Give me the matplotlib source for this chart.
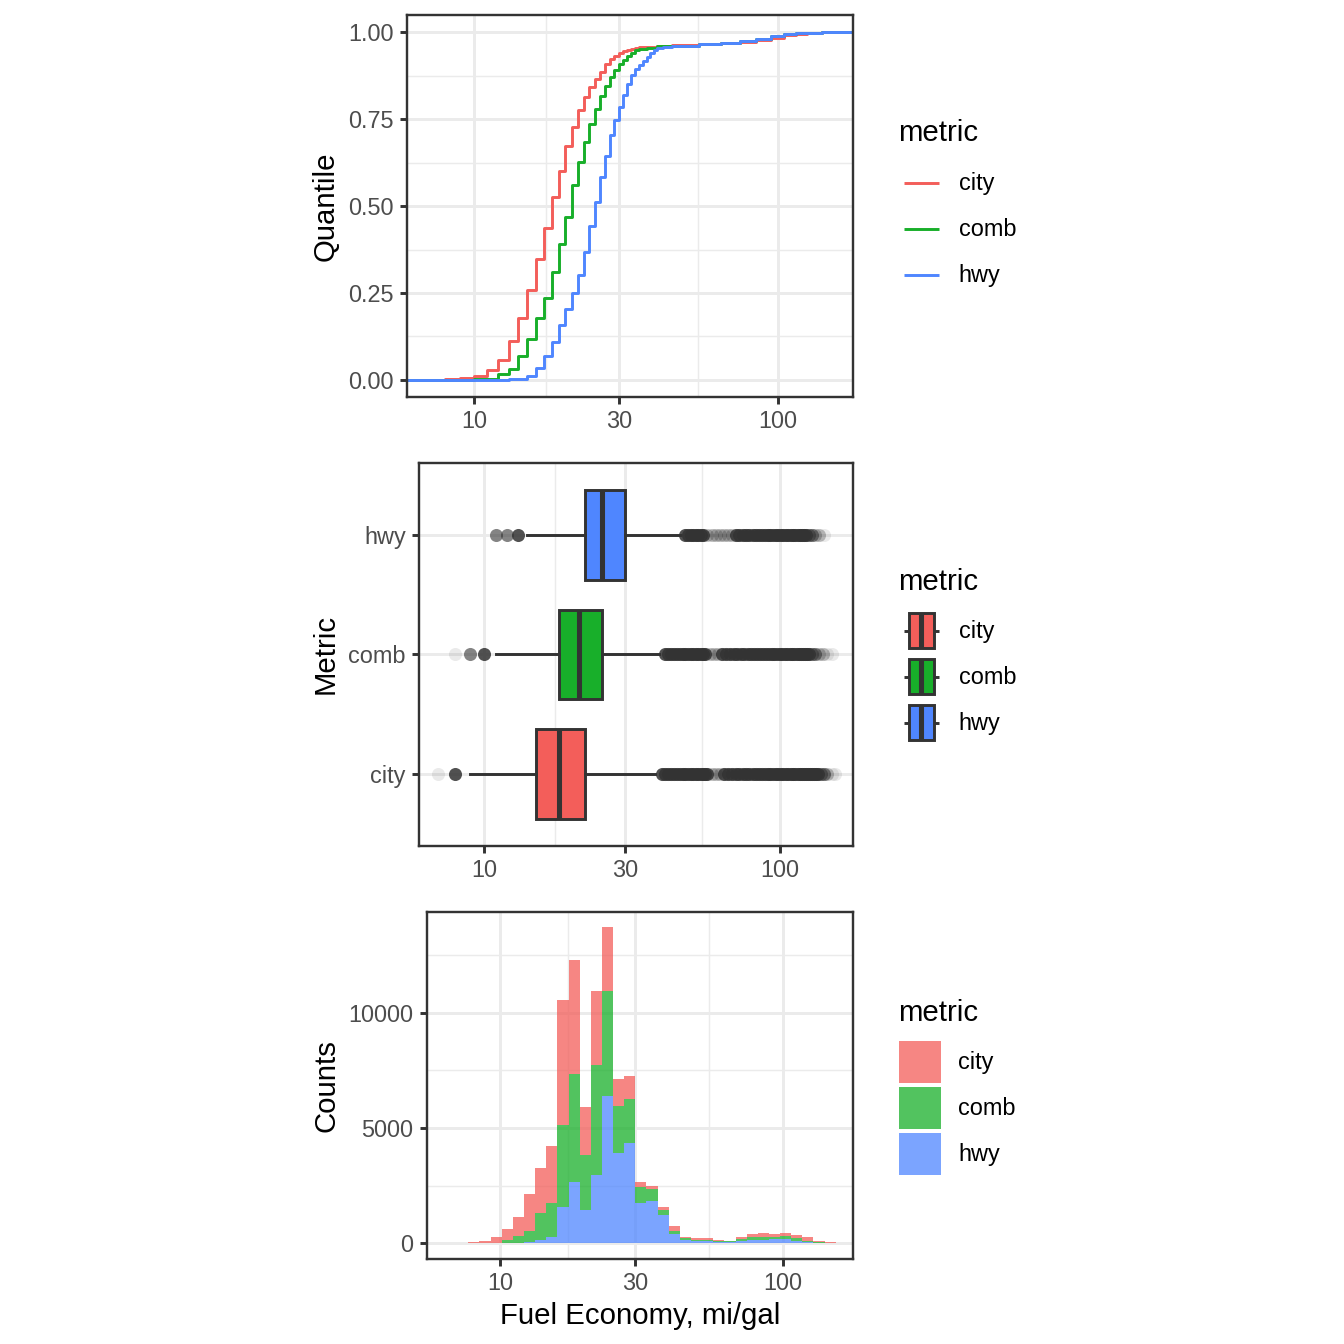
import numpy as np
import matplotlib
matplotlib.use("Agg")
import matplotlib.pyplot as plt
from matplotlib.lines import Line2D
from matplotlib.patches import Rectangle
from matplotlib.ticker import FixedLocator, FixedFormatter, NullFormatter

plt.rcParams['font.family'] = ['Liberation Sans', 'DejaVu Sans']

metrics = ['city', 'comb', 'hwy']
colors = ['#F35E5A', '#18AF2A', '#4F86FF']

# ---- ECDF steps: mpg value and cumulative share after the step
city_x = [7, 8, 9, 10, 11, 12, 13, 14, 15, 16, 17, 18, 19, 20, 21, 22, 23, 24, 25,
          26, 27, 28, 29, 30, 31, 32, 33, 34, 35, 37, 40, 45, 55, 65, 75, 85, 95,
          105, 115, 125, 140]
city_q = [0.0005, 0.002, 0.006, 0.011, 0.029, 0.057, 0.111, 0.178, 0.258, 0.348,
          0.438, 0.526, 0.602, 0.673, 0.727, 0.778, 0.815, 0.843, 0.865, 0.887,
          0.910, 0.922, 0.932, 0.941, 0.946, 0.950, 0.953, 0.955, 0.957, 0.959,
          0.962, 0.964, 0.967, 0.969, 0.972, 0.977, 0.985, 0.992, 0.996, 0.998, 1.0]

comb_x = [8, 9, 10, 11, 12, 13, 14, 15, 16, 17, 18, 19, 20, 21, 22, 23, 24, 25,
          26, 27, 28, 29, 30, 31, 32, 33, 34, 35, 37, 40, 45, 55, 65, 75, 85, 95,
          105, 115, 125, 140]
comb_q = [0.0002, 0.001, 0.002, 0.004, 0.016, 0.031, 0.069, 0.119, 0.178, 0.237,
          0.310, 0.391, 0.470, 0.560, 0.628, 0.686, 0.736, 0.780, 0.818, 0.845,
          0.872, 0.891, 0.910, 0.920, 0.931, 0.941, 0.948, 0.952, 0.956, 0.961,
          0.962, 0.967, 0.970, 0.974, 0.981, 0.989, 0.995, 0.998, 0.999, 1.0]

hwy_x = [11, 12, 13, 14, 15, 16, 17, 18, 19, 20, 21, 22, 23, 24, 25, 26, 27, 28,
         29, 30, 31, 32, 33, 34, 35, 36, 37, 38, 39, 40, 42, 45, 55, 65, 75, 85,
         95, 105, 115, 125, 140]
hwy_q = [0.0003, 0.0006, 0.002, 0.004, 0.011, 0.033, 0.069, 0.109, 0.157, 0.203,
         0.249, 0.302, 0.367, 0.444, 0.512, 0.585, 0.644, 0.704, 0.748, 0.784,
         0.820, 0.851, 0.876, 0.895, 0.905, 0.918, 0.930, 0.942, 0.950, 0.955,
         0.959, 0.962, 0.967, 0.970, 0.974, 0.981, 0.989, 0.995, 0.998, 0.999, 1.0]

# ---- boxplot: whisker low, q1, median, q3, whisker high
city_box = [9, 15, 18, 22, 38]
comb_box = [11, 18, 21, 25, 39]
hwy_box = [14, 22, 25, 30, 46]

# outliers grouped by how dense they look
city_out_dark = [8, 40, 41, 42, 43, 44, 45, 46, 47, 48, 49, 50, 51, 52, 53, 54, 55,
                 56, 57, 65, 67, 69, 71, 73, 75, 77, 79, 81, 83, 85, 87, 89, 91, 93,
                 95, 97, 99, 101, 103, 105, 107, 109, 111, 113, 115, 117, 119, 121,
                 123, 125, 127, 129, 131, 133, 135]
city_out_mid = [138, 141]
city_out_light = [59, 61, 63, 145]
city_out_faint = [7, 150, 154]

comb_out_dark = [10, 41, 42, 43, 44, 45, 46, 47, 48, 49, 50, 51, 52, 53, 54, 55, 56,
                 64, 66, 68, 70, 72, 74, 76, 78, 80, 82, 84, 86, 88, 90, 92, 94, 96,
                 98, 100, 102, 104, 106, 108, 110, 112, 114, 116, 118, 120, 122, 124,
                 126]
comb_out_mid = [9, 129, 132]
comb_out_light = [58, 60, 62, 136, 140]
comb_out_faint = [8, 145, 150]

hwy_out_dark = [13, 48, 49, 50, 51, 52, 53, 54, 55, 71, 73, 75, 77, 79, 81, 83, 85,
                87, 89, 91, 93, 95, 97, 99, 101, 103, 105, 107, 109, 111, 113, 115,
                117, 119, 121, 123]
hwy_out_mid = [11, 12, 126, 129]
hwy_out_light = [57, 59, 61, 63, 65, 67, 69, 132, 136]
hwy_out_faint = [141]

# ---- histogram (33 log-spaced bins between 10^0.8877 and 10^2.1867)
hist_log_lo, hist_log_hi = 0.8877, 2.1867
hist_city = [40, 80, 230, 470, 860, 1640, 1980, 2460, 5430, 4940, 2070, 3230, 2745,
             1150, 990, 215, 160, 130, 200, 57, 72, 86, 30, 30, 73, 130, 172, 100,
             145, 130, 173, 43, 20]
hist_comb = [0, 10, 30, 115, 270, 460, 1160, 1490, 3560, 4700, 2410, 4780, 4570,
             2040, 1900, 690, 490, 200, 130, 60, 44, 44, 28, 14, 72, 130, 130, 100,
             113, 100, 43, 27, 10]
hist_hwy = [0, 0, 0, 15, 30, 57, 144, 273, 1566, 2644, 1423, 2946, 6395, 3923, 4354,
            1767, 1854, 1221, 402, 158, 100, 86, 72, 72, 115, 144, 144, 187, 187,
            115, 57, 30, 10]

major_x = [10, 30, 100]
minor_x = [np.sqrt(10 * 30), np.sqrt(30 * 100), 100 * np.sqrt(100 / 30)]

W = H = 1344
fig = plt.figure(figsize=(7, 7), dpi=192)


def px_axes(l, t, r, b):
    return fig.add_axes([l / W, 1 - b / H, (r - l) / W, (b - t) / H])


def style(ax, xmin):
    ax.set_xscale('log')
    ax.set_xlim(xmin, 177.4)
    ax.xaxis.set_major_locator(FixedLocator(major_x))
    ax.xaxis.set_major_formatter(FixedFormatter(['10', '30', '100']))
    ax.xaxis.set_minor_locator(FixedLocator(minor_x))
    ax.xaxis.set_minor_formatter(NullFormatter())
    ax.grid(which='major', color='#EBEBEB', lw=1.1)
    ax.grid(which='minor', color='#EBEBEB', lw=0.55)
    ax.set_axisbelow(True)
    ax.tick_params(which='major', direction='out', length=2.75, width=1.1,
                   color='#333333', labelsize=8.8, labelcolor='#4D4D4D', pad=2.2)
    ax.tick_params(which='minor', length=0)
    for sp in ax.spines.values():
        sp.set_color('#333333')
        sp.set_linewidth(0.9)


class KeyHandler:
    def __init__(self, kind):
        self.kind = kind

    def legend_artist(self, legend, orig_handle, fontsize, handlebox):
        x0, y0 = -handlebox.xdescent, -handlebox.ydescent
        w, h = handlebox.width, handlebox.height
        yc = y0 + h / 2
        c = orig_handle.get_color()
        if self.kind == 'line':
            art = Line2D([x0 + 0.11 * w, x0 + 0.89 * w], [yc, yc], color=c, lw=1.1,
                         solid_capstyle='butt')
            handlebox.add_artist(art)
            return art
        for xa, xb in [(0.11, 0.23), (0.77, 0.89)]:
            handlebox.add_artist(Line2D([x0 + xa * w, x0 + xb * w], [yc, yc],
                                        color='#333333', lw=1.1, solid_capstyle='butt'))
        art = Rectangle((x0 + 0.23 * w, yc - 0.38 * h), 0.54 * w, 0.76 * h,
                        facecolor=c, edgecolor='#333333', lw=1.1)
        handlebox.add_artist(art)
        handlebox.add_artist(Line2D([x0 + w / 2, x0 + w / 2],
                                    [yc - 0.37 * h, yc + 0.37 * h],
                                    color='#333333', lw=1.9, solid_capstyle='butt'))
        return art


def add_legend(handles, yc, hl, hh, ls, pad, sep, handler_map=None):
    leg = fig.legend(handles, metrics, loc='center left',
                     bbox_to_anchor=(898.5 / W, 1 - yc / H), frameon=False,
                     borderpad=0, borderaxespad=0, fontsize=8.8, title='metric',
                     title_fontsize=11, alignment='left', handlelength=hl,
                     handleheight=hh, labelspacing=ls, handletextpad=pad,
                     handler_map=handler_map)
    leg._legend_box.sep = sep
    return leg


# ---- panel 1: ECDF
ax1 = px_axes(407.3, 15, 853.3, 397.3)
for xs, qs, c in zip([city_x, comb_x, hwy_x], [city_q, comb_q, hwy_q], colors):
    ax1.step(np.r_[1, xs, 1000], np.r_[0, qs, 1], where='post', color=c, lw=1.1)
style(ax1, 6.03)
ax1.set_ylim(-0.05, 1.05)
ax1.yaxis.set_major_locator(FixedLocator([0, 0.25, 0.5, 0.75, 1.0]))
ax1.yaxis.set_major_formatter(FixedFormatter(['0.00', '0.25', '0.50', '0.75', '1.00']))
ax1.yaxis.set_minor_locator(FixedLocator([0.125, 0.375, 0.625, 0.875]))
ax1.set_ylabel('Quantile', fontsize=11)
ax1.yaxis.set_label_coords((340 - 407.3) / 446, 0.5)

line_handles = [Line2D([], [], color=c) for c in colors]
add_legend(line_handles, 208.7, 1.96, 2.64, 0, 0.6, 4.95,
           {h: KeyHandler('line') for h in line_handles})

# ---- panel 2: boxplots
ax2 = px_axes(419, 463.3, 853.3, 845.5)
stats = [dict(whislo=b[0], q1=b[1], med=b[2], q3=b[3], whishi=b[4], fliers=[], label=m)
         for m, b in zip(metrics, [city_box, comb_box, hwy_box])]
bp = ax2.bxp(stats, positions=[1, 2, 3], widths=0.75, orientation='horizontal',
             patch_artist=True, showcaps=False, showfliers=False,
             boxprops=dict(edgecolor='#333333', linewidth=1.1),
             medianprops=dict(color='#333333', linewidth=1.9, solid_capstyle='butt'),
             whiskerprops=dict(color='#333333', linewidth=1.1))
for patch, c in zip(bp['boxes'], colors):
    patch.set_facecolor(c)

groups = [[city_out_dark, city_out_mid, city_out_light, city_out_faint],
          [comb_out_dark, comb_out_mid, comb_out_light, comb_out_faint],
          [hwy_out_dark, hwy_out_mid, hwy_out_light, hwy_out_faint]]
for pos, grp in zip([1, 2, 3], groups):
    for vals, a in zip(grp, [0.85, 0.6, 0.3, 0.1]):
        ax2.scatter(vals, np.full(len(vals), pos), s=24, color='#333333',
                    alpha=a, linewidths=0, zorder=3)
style(ax2, 6.03)
ax2.set_ylim(0.4, 3.6)
ax2.set_yticks([1, 2, 3], metrics)
ax2.set_ylabel('Metric', fontsize=11)
ax2.yaxis.set_label_coords((340 - 419) / 434.3, 0.5)

box_handles = [Line2D([], [], color=c) for c in colors]
add_legend(box_handles, 657, 1.96, 2.64, 0, 0.6, 4.4,
           {h: KeyHandler('box') for h in box_handles})

# ---- panel 3: stacked histogram
ax3 = px_axes(426.7, 911.7, 853.3, 1259)
edges = 10 ** np.linspace(hist_log_lo, hist_log_hi, len(hist_city) + 1)
base = np.zeros(len(hist_city))
for counts, c in zip([hist_hwy, hist_comb, hist_city], colors[::-1]):
    top = base + np.array(counts)
    ax3.stairs(top, edges, baseline=base, fill=True, color=c, alpha=0.75, lw=0)
    base = top
style(ax3, 5.50)
ymax = base.max()
ax3.set_ylim(-0.05 * ymax, 1.05 * ymax)
ax3.yaxis.set_major_locator(FixedLocator([0, 5000, 10000]))
ax3.yaxis.set_major_formatter(FixedFormatter(['0', '5000', '10000']))
ax3.yaxis.set_minor_locator(FixedLocator([2500, 7500, 12500]))
ax3.set_ylabel('Counts', fontsize=11)
ax3.yaxis.set_label_coords((340 - 426.7) / 426.6, 0.5)
ax3.set_xlabel('Fuel Economy, mi/gal', fontsize=11)
ax3.xaxis.set_label_coords(0.5, -(1302 - 1259) / 347.3)

hist_handles = [Rectangle((0, 0), 1, 1, facecolor=c, alpha=0.75, lw=0) for c in colors]
add_legend(hist_handles, 1087, 1.79, 2.377, 0.17, 0.765, 5.25)

fig.savefig('out.png', dpi=192)
